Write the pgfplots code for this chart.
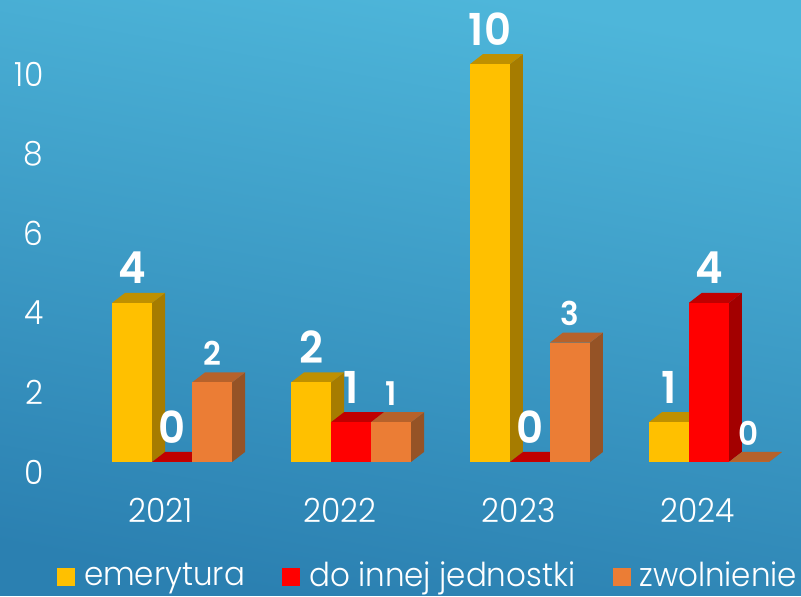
\documentclass[border=0pt]{standalone}
\usepackage{fontspec}
\setmainfont{Poppins Light}[FakeStretch=0.94]
\newfontfamily\lab{Poppins SemiBold}[FakeStretch=0.95]
\usepackage{pgfplots}
\pgfplotsset{compat=1.18}

\definecolor{yfront}{HTML}{FFC000}
\definecolor{ytop}{HTML}{BF9000}
\definecolor{yside}{HTML}{A67C00}
\definecolor{rfront}{HTML}{FF0000}
\definecolor{rtop}{HTML}{C00000}
\definecolor{rside}{HTML}{A30000}
\definecolor{ofront}{HTML}{EB7D35}
\definecolor{otop}{HTML}{B6622B}
\definecolor{oside}{HTML}{955326}
\definecolor{bgtop}{HTML}{4EB6DA}
\definecolor{bgbot}{HTML}{2B80B1}

% left edge, value, colour prefix
\newcommand\bbar[3]{%
  \pgfmathsetmacro\xa{#1}\pgfmathsetmacro\xb{#1+0.2235}%
  \pgfmathsetmacro\xc{#1+0.0726}\pgfmathsetmacro\xd{#1+0.2961}%
  \pgfmathsetmacro\ya{#2}\pgfmathsetmacro\yb{#2+0.2513}\pgfmathsetmacro\yc{0.2513}%
  \addplot[forget plot,draw=none,fill=#3side] coordinates {(\xb,0) (\xd,\yc) (\xd,\yb) (\xb,\ya)} --cycle;
  \addplot[forget plot,draw=none,fill=#3top] coordinates {(\xa,\ya) (\xc,\yb) (\xd,\yb) (\xb,\ya)} --cycle;
  \addplot[forget plot,draw=none,fill=#3front] coordinates {(\xa,0) (\xb,0) (\xb,\ya) (\xa,\ya)} --cycle;
}
% bar centre, value
\newcommand\biglab[2]{\node[white,font=\lab\fontsize{33}{33}\selectfont] at (axis cs:#1,#2) [yshift=26.25pt] {#2};}
\newcommand\smalllab[2]{\node[white,font=\lab\fontsize{24.5}{24.5}\selectfont] at (axis cs:#1,#2) [yshift=21.75pt] {#2};}

\begin{document}
\begin{tikzpicture}
\begin{axis}[
  scale only axis,
  width=600.75pt, height=447pt,
  xmin=-0.8939, xmax=3.581,
  ymin=-3.367, ymax=11.608,
  clip=false,
  axis line style={draw=none},
  major tick length=0pt,
  xtick={0,1,2,3},
  xticklabels={2021,2022,2023,2024},
  ytick={0,2,4,6,8,10},
  /pgf/number format/assume math mode=true,
  tick label style={white,font=\fontsize{25}{25}\selectfont},
  xticklabel style={yshift=77pt,xshift=0.5pt},
  yticklabel style={xshift=36pt,yshift=-7.5pt},
  axis background/.style={top color=bgtop,bottom color=bgbot,shading angle=-10},
  legend columns=3,
  legend cell align=left,
  legend style={at={(rel axis cs:0.999,0.008)},anchor=south east,draw=none,fill=none,inner sep=0pt,
    text=white,font=\fontsize{24.7}{24.7}\selectfont,
    /tikz/every even column/.append style={column sep=26pt}},
  legend image code/.code={\fill[#1,draw=none] (0pt,-8pt) rectangle (13.5pt,5.5pt);\path (18pt,0pt);},
]
\addlegendimage{fill=yfront}\addlegendentry{emerytura}
\addlegendimage{fill=rfront}\addlegendentry{do innej jednostki}
\addlegendimage{fill=ofront}\addlegendentry{zwolnienie}

\bbar{-0.268}{4}{y}
\bbar{-0.0447}{0}{r}
\bbar{0.1788}{2}{o}

\bbar{0.732}{2}{y}
\bbar{0.9553}{1}{r}
\bbar{1.1788}{1}{o}

\bbar{1.732}{10}{y}
\bbar{1.9553}{0}{r}
\bbar{2.1788}{3}{o}

\bbar{2.732}{1}{y}
\bbar{2.9553}{4}{r}
\bbar{3.1788}{0}{o}

\biglab{-0.156}{4}
\biglab{0.067}{0}
\smalllab{0.29}{2}
\biglab{0.844}{2}
\biglab{1.067}{1}
\smalllab{1.29}{1}
\biglab{1.844}{10}
\biglab{2.067}{0}
\smalllab{2.29}{3}
\biglab{2.844}{1}
\biglab{3.067}{4}
\smalllab{3.29}{0}
\end{axis}
\end{tikzpicture}
\end{document}
